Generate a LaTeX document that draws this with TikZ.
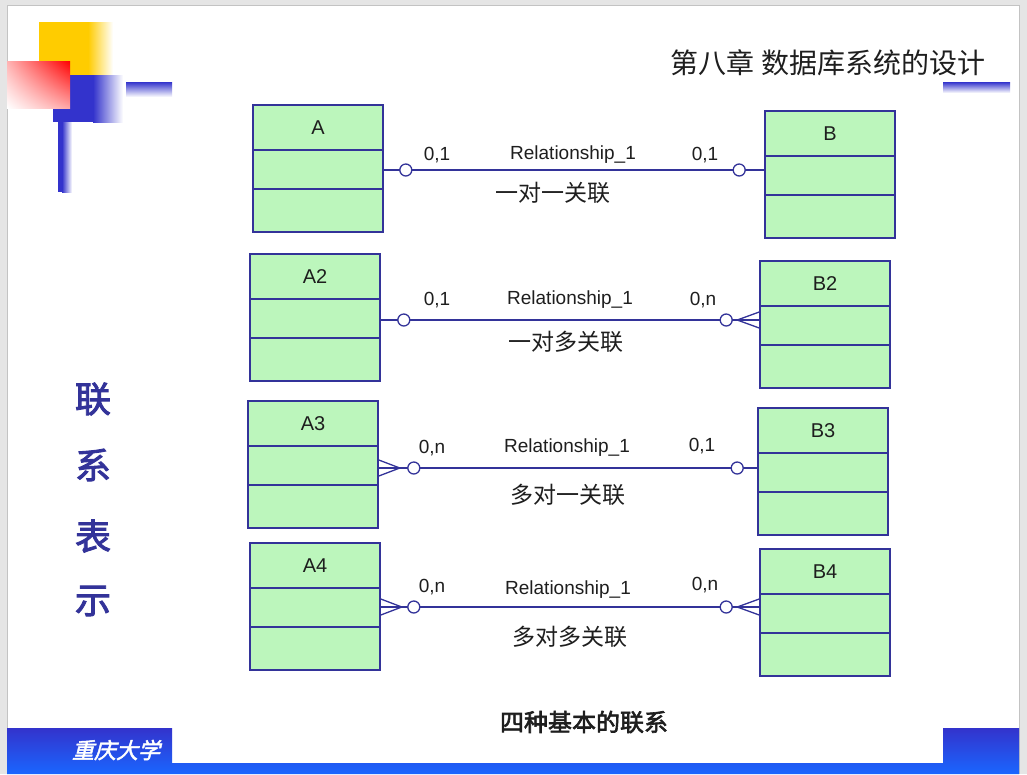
\documentclass[tikz,border=0pt]{standalone}
\usepackage{fontspec}
\setmainfont{Liberation Sans}
\newfontfamily\cjk{Noto Sans CJK SC}
\newfontfamily\cjkbold[FakeBold=2.5]{Noto Sans CJK SC}
\newfontfamily\cjkslant[FakeBold=2,FakeSlant=0.25]{Noto Sans CJK SC}
\usetikzlibrary{calc,shadings}
\definecolor{bggray}{RGB}{229,229,229}
\definecolor{framegray}{RGB}{195,195,195}
\definecolor{decoyellow}{RGB}{255,204,0}
\definecolor{decoblue}{RGB}{51,51,204}
\definecolor{barblue}{RGB}{26,102,255}
\definecolor{linecol}{RGB}{51,51,153}
\definecolor{entgreen}{RGB}{188,246,188}
\definecolor{textgray}{RGB}{30,30,30}

\begin{document}
\begin{tikzpicture}[x=1pt,y=-1pt,
    entity/.style={rectangle,draw=linecol,fill=entgreen,line width=1.6pt,minimum width=130pt,minimum height=127pt,inner sep=0pt},
    entline/.style={draw=linecol,line width=1.6pt},
    entname/.style={font=\fontsize{20}{22}\selectfont,text=textgray},
    rel/.style={draw=linecol,line width=1.3pt},
    zero/.style={shape=circle,draw=linecol,fill=white,line width=1.3pt,minimum size=12pt,inner sep=0pt},
    card/.style={font=\fontsize{19}{21}\selectfont,text=textgray},
    relname/.style={font=\fontsize{19}{21}\selectfont,text=textgray},
    kind/.style={font=\cjk\fontsize{23}{25}\selectfont,text=textgray}]
    \useasboundingbox (0,0) rectangle (1027,774);
    % slide frame
    \fill[bggray] (0,0) rectangle (1027,774);
    \fill[white] (7,5) rectangle (1019,774);
    \draw[framegray] (7,774) -- (7,5) -- (1019,5) -- (1019,774);
    % corner decoration
    \fill[decoyellow] (39,22) rectangle (88,75);
    \shade[left color=decoyellow,right color=white] (88,22) rectangle (113,75);
    \fill[decoblue] (53,75) rectangle (93,122);
    \shade[left color=decoblue,right color=white] (93,75) rectangle (123,122);
    \shade[upper left=red!30,upper right=red,lower left=white,lower right=red!35] (7,61) rectangle (70,108);
    \shade[top color=decoblue,bottom color=white] (126,82) rectangle (172,97);
    \fill[decoblue] (58,122) rectangle (62,192);
    \shade[left color=decoblue,right color=white] (62,122) rectangle (72,192);
    \shade[top color=decoblue,bottom color=white] (943,82) rectangle (1010,93);
    % bottom bar
    \shade[top color=decoblue,bottom color=barblue] (7,728) -- (172,728) -- (172,763) -- (943,763) -- (943,728) -- (1019,728) -- (1019,774) -- (7,774) -- cycle;
    \node[font=\cjkslant\fontsize{22}{24}\selectfont,text=white] (school) at (116,750) {重庆大学};
    % titles
    \node[font=\cjk\fontsize{28}{31}\selectfont,text=textgray] (title) at (828,63) {第八章 数据库系统的设计};
    \node[font=\cjkbold\fontsize{36}{38}\selectfont,text=linecol] (t1) at (93,399) {联};
    \node[font=\cjkbold\fontsize{36}{38}\selectfont,text=linecol] (t2) at (93,465) {系};
    \node[font=\cjkbold\fontsize{36}{38}\selectfont,text=linecol] (t3) at (93,536) {表};
    \node[font=\cjkbold\fontsize{36}{38}\selectfont,text=linecol] (t4) at (93,601) {示};
    \node[font=\cjkbold\fontsize{24}{26}\selectfont,text=textgray] (caption) at (584,722) {四种基本的联系};
    % entities
    \foreach \ent/\cx/\cy in {A/318/168.5, B/830/174.5, A2/315/317.5, B2/825/324.5, A3/313/464.5, B3/823/471.5, A4/315/606.5, B4/825/612.5} {
        \node[entity] (\ent) at (\cx,\cy) {};
        \draw[entline] ($(\ent.north west)+(0,46)$) -- ($(\ent.north east)+(0,46)$);
        \draw[entline] ($(\ent.north west)+(0,85)$) -- ($(\ent.north east)+(0,85)$);
        \node[entname] at ($(\ent.north)+(0,23)$) {\ent};
    }
    % one to one
    \coordinate (a1) at (A.east |- 0,170);
    \coordinate (b1) at (B.west |- 0,170);
    \draw[rel] (a1) -- (b1);
    \node[zero] (a1o) at ($(a1)+(22,0)$) {};
    \node[zero] (b1o) at ($(b1)+(-25,0)$) {};
    \node[card] at (437,155) {0,1};
    \node[relname] at (573,155) {Relationship\_1};
    \node[card] at (705,155) {0,1};
    \node[kind] at (553,193) {一对一关联};
    % one to many
    \coordinate (a2) at (A2.east |- 0,320);
    \coordinate (b2) at (B2.west |- 0,320);
    \draw[rel] (a2) -- (b2);
    \draw[rel] ($(b2)+(0,-8)$) -- ($(b2)+(-22,0)$) -- ($(b2)+(0,8)$);
    \node[zero] (a2o) at ($(a2)+(23,0)$) {};
    \node[zero] (b2o) at ($(b2)+(-33,0)$) {};
    \node[card] at (437,300) {0,1};
    \node[relname] at (570,300) {Relationship\_1};
    \node[card] at (703,300) {0,n};
    \node[kind] at (566,342) {一对多关联};
    % many to one
    \coordinate (a3) at (A3.east |- 0,468);
    \coordinate (b3) at (B3.west |- 0,468);
    \draw[rel] (a3) -- (b3);
    \draw[rel] ($(a3)+(0,-8)$) -- ($(a3)+(21,0)$) -- ($(a3)+(0,8)$);
    \node[zero] (a3o) at ($(a3)+(35,0)$) {};
    \node[zero] (b3o) at ($(b3)+(-20,0)$) {};
    \node[card] at (432,448) {0,n};
    \node[relname] at (567,448) {Relationship\_1};
    \node[card] at (702,446) {0,1};
    \node[kind] at (568,495) {多对一关联};
    % many to many
    \coordinate (a4) at (A4.east |- 0,607);
    \coordinate (b4) at (B4.west |- 0,607);
    \draw[rel] (a4) -- (b4);
    \draw[rel] ($(a4)+(0,-8)$) -- ($(a4)+(21,0)$) -- ($(a4)+(0,8)$);
    \draw[rel] ($(b4)+(0,-8)$) -- ($(b4)+(-22,0)$) -- ($(b4)+(0,8)$);
    \node[zero] (a4o) at ($(a4)+(33,0)$) {};
    \node[zero] (b4o) at ($(b4)+(-33,0)$) {};
    \node[card] at (432,587) {0,n};
    \node[relname] at (568,590) {Relationship\_1};
    \node[card] at (705,585) {0,n};
    \node[kind] at (570,637) {多对多关联};
\end{tikzpicture}
\end{document}
